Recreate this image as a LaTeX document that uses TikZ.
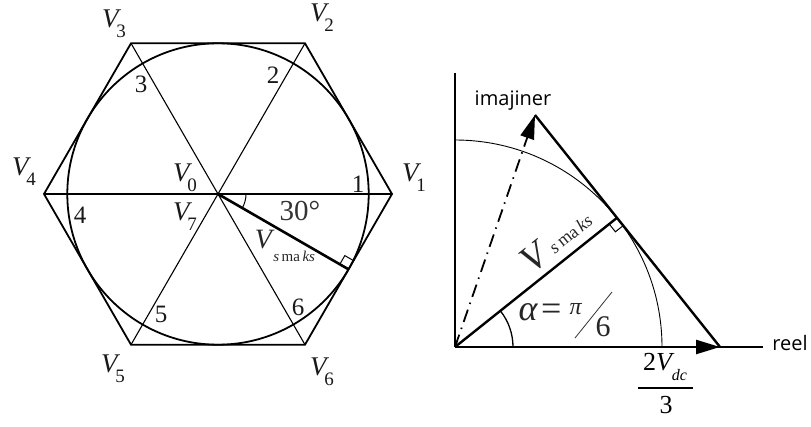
\documentclass[tikz,border=0pt]{standalone}
\usepackage{fontspec}
\setmainfont{Liberation Serif}
\newfontfamily\sansf{Open Sans}
\usetikzlibrary{arrows.meta,calc}
\newcommand\Vlab[1]{\textit{V}\kern-0.18em\raisebox{-0.38em}{\fontsize{19}{19}\selectfont #1}}
\tikzset{
  lab/.style={inner sep=0pt, font=\fontsize{27}{30}\selectfont, text=black!90},
  num/.style={inner sep=0pt, font=\fontsize{25}{28}\selectfont, text=black!90},
  hexline/.style={line width=1.8pt, line join=miter},
  diag/.style={line width=1.1pt},
  thickvec/.style={line width=2.6pt},
  thinarc/.style={line width=0.9pt},
  sanslab/.style={inner sep=0pt, font=\sansf\fontsize{20}{24}\selectfont},
}
\begin{document}
\begin{tikzpicture}[x=1pt,y=-1pt]
\useasboundingbox (0,0) rectangle (811,427);
% ---------- left diagram ----------
\coordinate (C) at (218,194);
\coordinate (H1) at (392,194);
\coordinate (H2) at (305,43.3);
\coordinate (H3) at (131,43.3);
\coordinate (H4) at (44,194);
\coordinate (H5) at (131,344.7);
\coordinate (H6) at (305,344.7);
\coordinate (E) at (348.5,269.3);
\draw[hexline] (H1) -- (H2) -- (H3) -- (H4) -- (H5) -- (H6) -- cycle;
\draw[line width=1.8pt] (C) circle[radius=150.7pt];
\draw[diag] (H1) -- (H4);
\draw[diag] (H2) -- (H5);
\draw[diag] (H3) -- (H6);
\draw[thickvec] (C) -- (E);
\draw[line width=1pt] (339.8,264.3) -- (344.8,255.6) -- (353.5,260.6);
\draw[line width=1pt] (246,194) arc[start angle=0,end angle=-30,radius=28pt];
\node[lab] (v3) at (114,24) {\Vlab{3}};
\node[lab] (v2) at (322,18) {\Vlab{2}};
\node[lab] (v4) at (24,172) {\Vlab{4}};
\node[lab] (v1) at (414,178) {\Vlab{1}};
\node[lab] (v5) at (113,369) {\Vlab{5}};
\node[lab] (v6) at (322,372) {\Vlab{6}};
\node[lab] (v0) at (185,178) {\Vlab{0}};
\node[lab] (v7) at (185,217) {\Vlab{7}};
\node[num] (n1) at (358,184) {1};
\node[num] (n2) at (273,75) {2};
\node[num] (n3) at (141,84) {3};
\node[num] (n4) at (80,215) {4};
\node[num] (n5) at (161,314) {5};
\node[num] (n6) at (298,307) {6};
\node[inner sep=0pt, font=\fontsize{29}{30}\selectfont, text=black!80] (deg) at (300,211) {30°};
\node[inner sep=0pt, font=\fontsize{28}{30}\selectfont, text=black!85] (vs1) at (285,246)
  {\textit{V}\kern-0.05em\raisebox{-0.45em}{\fontsize{15}{15}\selectfont\textit{s}\,ma\,\textit{ks}}};
% ---------- right diagram ----------
\coordinate (O) at (455,347);
\coordinate (Ytop) at (455,73);
\coordinate (Xend) at (763,347);
\coordinate (A) at (535,115);
\coordinate (B) at (720,347);
\coordinate (F) at (617,217.8);
\draw[line width=1.8pt] (O) -- (Ytop);
\draw[line width=1.8pt] (O) -- (Xend);
\draw[thinarc] (662,347) arc[start angle=0,end angle=90,radius=207pt];
\draw[line width=2.4pt] (A) -- (B);
\draw[line width=2.4pt] (O) -- (F);
\draw[line width=1pt] (609.2,224.0) -- (615.4,231.8) -- (623.2,225.6);
\draw[line width=1.3pt] (513,347) arc[start angle=0,end angle=38.6,radius=58pt];
\draw[line width=2.4pt, -{Triangle[length=24pt,width=14pt]}] (O) -- (B);
\draw[line width=1.8pt, dash pattern=on 13pt off 6pt on 1.5pt off 6pt,
      -{Triangle[length=24pt,width=14pt]}] (O) -- (A);
\node[sanslab] (im) at (513,101) {imajiner};
\node[sanslab] (re) at (790,343) {reel};
\node[inner sep=0pt, rotate=38.6, font=\fontsize{38}{40}\selectfont, text=black!85] (vs2) at (556,240)
  {\textit{V}\kern0.1em\raisebox{0.05em}{\fontsize{18}{18}\selectfont\textit{s}\,ma\,\textit{ks}}};
\node[inner sep=0pt, font=\fontsize{36}{38}\selectfont, text=black!85] (al) at (540,312) {\textit{α}\kern0.08em=};
\node[inner sep=0pt, font=\fontsize{24}{26}\selectfont, text=black!85] (pi) at (576,309) {\textit{π}};
\node[inner sep=0pt, font=\fontsize{30}{32}\selectfont, text=black!85] (six) at (603,327) {6};
\draw[line width=0.8pt, black!80] (575,338) -- (612,292);
\node[inner sep=0pt, font=\fontsize{26}{28}\selectfont] (num) at (665,367)
  {2\textit{V}\kern-0.1em\raisebox{-0.4em}{\fontsize{16}{16}\selectfont\textit{dc}}};
\draw[line width=1.2pt] (638,388) -- (693,388);
\node[inner sep=0pt, font=\fontsize{26}{28}\selectfont] (den) at (666,405) {3};
\end{tikzpicture}
\end{document}
